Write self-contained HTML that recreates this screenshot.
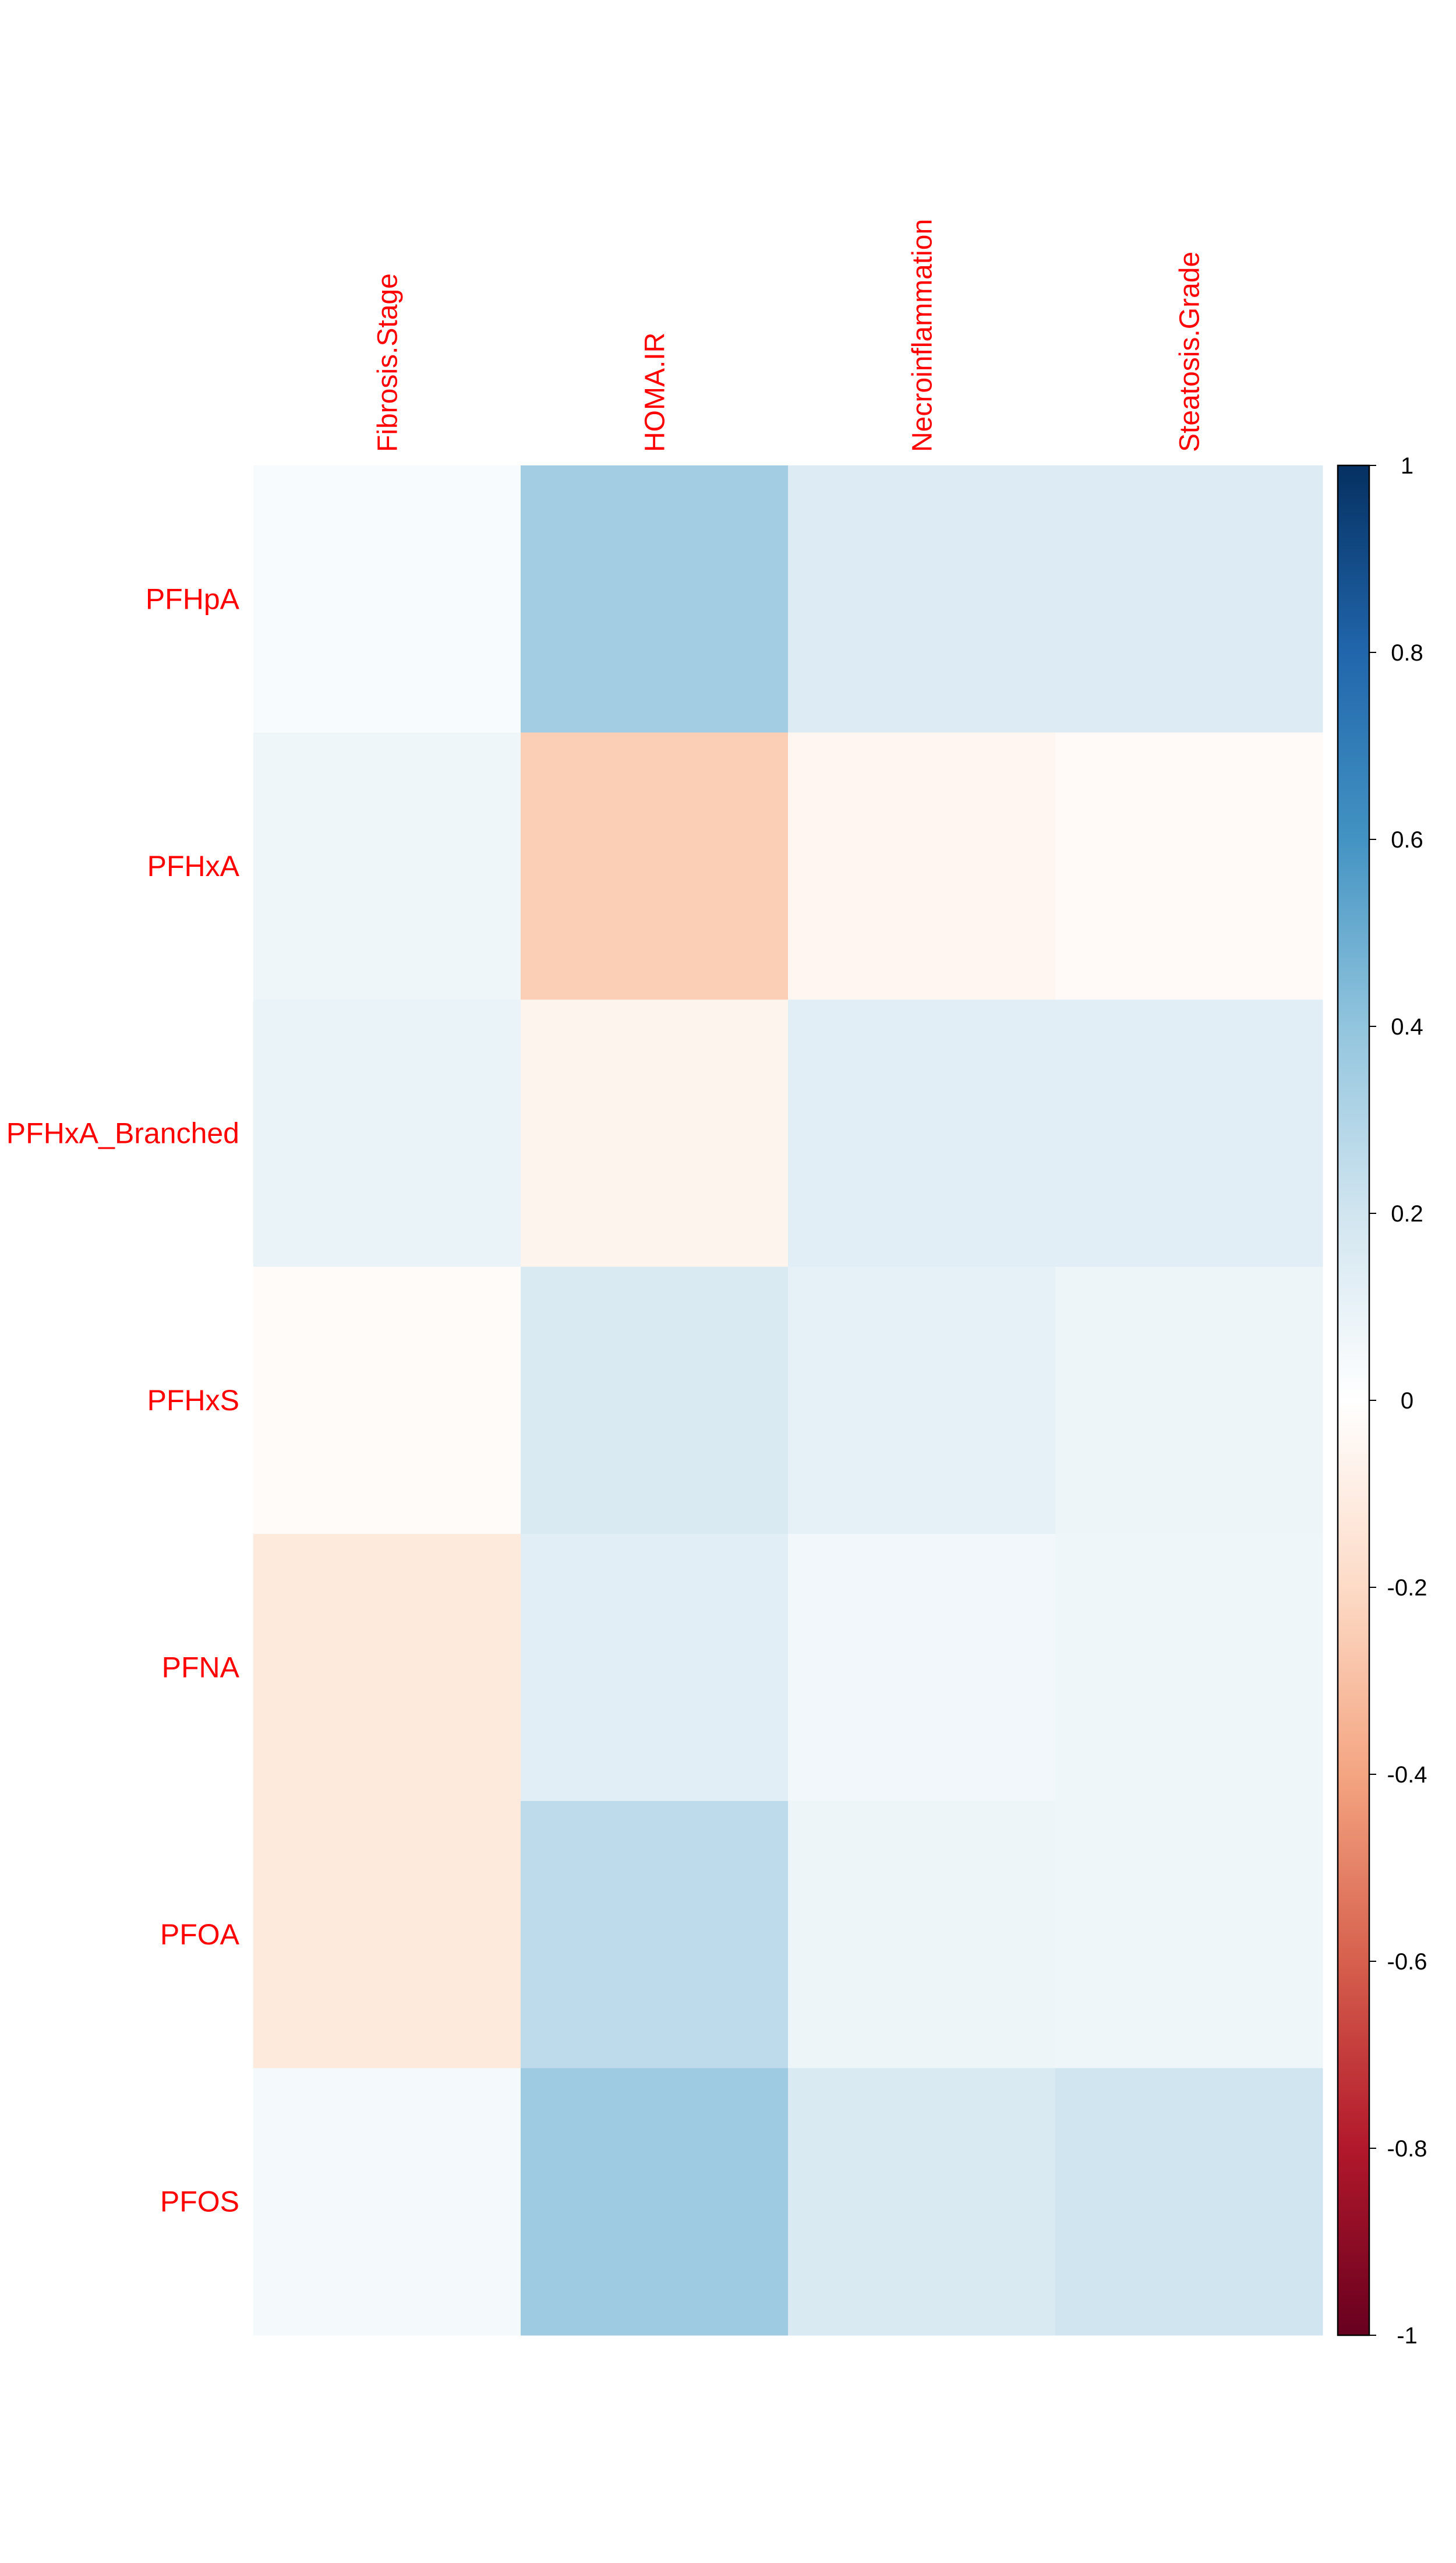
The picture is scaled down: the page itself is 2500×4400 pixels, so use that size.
<!DOCTYPE html>
<html><head><meta charset="utf-8"><style>
html,body{margin:0;padding:0;background:#fff;}
svg{display:block;font-family:"Liberation Sans",Arial,sans-serif;}
</style></head><body>
<svg id="chart" width="2500" height="4400" viewBox="0 0 2500 4400" xmlns="http://www.w3.org/2000/svg"></svg>
<script>
const rowLabels = ["PFHpA","PFHxA","PFHxA_Branched","PFHxS","PFNA","PFOA","PFOS"];
const colLabels = ["Fibrosis.Stage","HOMA.IR","Necroinflammation","Steatosis.Grade"];
const corrPFHpA = [0.03, 0.35, 0.15, 0.15];
const corrPFHxA = [0.07, -0.25, -0.05, -0.03];
const corrPFHxABranched = [0.09, -0.06, 0.13, 0.13];
const corrPFHxS = [-0.02, 0.16, 0.11, 0.08];
const corrPFNA = [-0.12, 0.13, 0.06, 0.07];
const corrPFOA = [-0.12, 0.26, 0.08, 0.07];
const corrPFOS = [0.05, 0.36, 0.16, 0.20];
const values = [corrPFHpA, corrPFHxA, corrPFHxABranched, corrPFHxS, corrPFNA, corrPFOA, corrPFOS];
const ticks = [1, 0.8, 0.6, 0.4, 0.2, 0, -0.2, -0.4, -0.6, -0.8, -1];
const tickText = ["1","0.8","0.6","0.4","0.2","0","-0.2","-0.4","-0.6","-0.8","-1"];

const NS = "http://www.w3.org/2000/svg";
const svg = document.getElementById("chart");
const stops = ["#67001F","#B2182B","#D6604D","#F4A582","#FDDBC7","#FFFFFF","#D1E5F0","#92C5DE","#4393C3","#2166AC","#053061"];
function hex(h){return [1,3,5].map(i=>parseInt(h.substr(i,2),16));}
function color(v){
  const t = (Math.max(-1,Math.min(1,v))+1)/2*(stops.length-1);
  const i = Math.min(stops.length-2, Math.floor(t)), f = t-i;
  const a = hex(stops[i]), b = hex(stops[i+1]);
  return "rgb("+a.map((x,k)=>Math.round(x+(b[k]-x)*f)).join(",")+")";
}
const gx0 = 435, gx1 = 2271, gy0 = 799, gy1 = 4009;
const cw = (gx1-gx0)/colLabels.length, rh = (gy1-gy0)/rowLabels.length;
const xPos = j => gx0 + j*cw;
const yPos = i => gy0 + i*rh;
function el(tag, attrs){const e=document.createElementNS(NS,tag);for(const k in attrs)e.setAttribute(k,attrs[k]);svg.appendChild(e);return e;}

values.forEach((row,i)=>row.forEach((v,j)=>{
  const r = el("rect",{x:xPos(j),y:yPos(i),width:cw+0.5,height:rh+0.5,fill:color(v)});
  
  
}));
rowLabels.forEach((l,i)=>{
  const t = el("text",{x:411,y:yPos(i)+rh/2+17,"text-anchor":"end","font-size":50,fill:"#FF0000"});
  t.textContent = l;
  
  
});
colLabels.forEach((l,j)=>{
  const cx = xPos(j)+cw/2+17;
  const t = el("text",{x:cx,y:776,"text-anchor":"start","font-size":48,fill:"#FF0000",transform:"rotate(-90 "+cx+" 776)"});
  t.textContent = l;
  
  
});
const cbx = 2297, cbw = 54;
const yC = v => gy1 - (v+1)/2*(gy1-gy0);
const defs = el("defs",{});
const lg = document.createElementNS(NS,"linearGradient");
lg.setAttribute("id","cbg");lg.setAttribute("x1","0");lg.setAttribute("y1","1");lg.setAttribute("x2","0");lg.setAttribute("y2","0");
stops.forEach((s,k)=>{const st=document.createElementNS(NS,"stop");st.setAttribute("offset",k/(stops.length-1));st.setAttribute("stop-color",s);lg.appendChild(st);});
defs.appendChild(lg);
const cb = el("rect",{x:cbx,y:gy0,width:cbw,height:gy1-gy0,fill:"url(#cbg)",stroke:"#000","stroke-width":2.5});


ticks.forEach((v,k)=>{
  const y = yC(v);
  const ln = el("line",{x1:cbx+cbw,x2:cbx+cbw+12,y1:y,y2:y,stroke:"#000","stroke-width":2});
  
  
  const t = el("text",{x:2416,y:y+14,"text-anchor":"middle","font-size":40,fill:"#000"});
  t.textContent = tickText[k];
  
  
});
</script>
</body></html>
